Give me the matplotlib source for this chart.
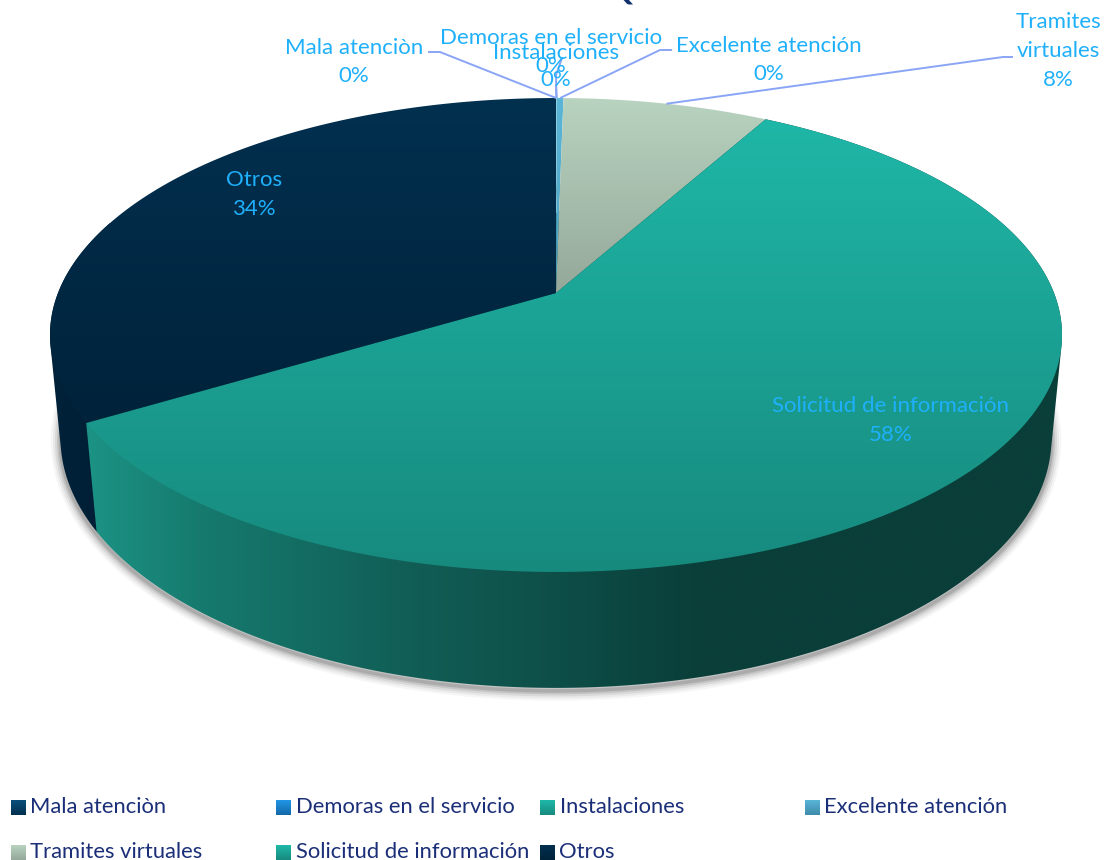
import numpy as np
import matplotlib
matplotlib.use("Agg")
import matplotlib.pyplot as plt
from matplotlib.colors import LinearSegmentedColormap
from matplotlib.patches import Polygon

# Chart data: share of each request type, in percent
categories = ["Mala atenciòn", "Demoras en el servicio", "Instalaciones",
              "Excelente atención", "Tramites virtuales",
              "Solicitud de información", "Otros"]
shares = [0.01, 0.01, 0.01, 0.25, 7.8, 58.3, 33.6]
shown_pct = ["0%", "0%", "0%", "0%", "8%", "58%", "34%"]

# Top-face gradient (upper colour, lower colour) for each slice
top_colors = [("#0a4f7a", "#02304f"), ("#2196e6", "#1468a8"), ("#1fb9a9", "#178a7e"),
              ("#5ab5d6", "#3f8bab"), ("#b8d3c0", "#95a899"), ("#1fb9a9", "#178a7e"),
              ("#02304f", "#00223a")]

FONT = "Lato"
LABEL_COLOR = "#1fb0fb"
LEADER_COLOR = "#8aa5f5"
LEGEND_COLOR = "#1b2f78"

W, H = 1107, 860
fig = plt.figure(figsize=(W / 100, H / 100), dpi=100)
ax = fig.add_axes([0, 0, 1, 1])
ax.set_xlim(0, W)
ax.set_ylim(H, 0)
ax.axis("off")

# Perspective projection of the pie disc; h = 0 is the top face, h = 1 the base
CX, R = 556.0, 498.0
PERSP, A, B = 0.1772, -177.6, 293.0
BASE_W, BASE_DROP = 0.0205, 109.5


def project(theta, h=0.0, r=1.0):
    u, v = r * np.sin(theta), r * np.cos(theta)
    w = 1 + PERSP * v + BASE_W * h
    return CX + R * u / w, (A * v + B + BASE_DROP * h) / w


def ramp(stops):
    return LinearSegmentedColormap.from_list("ramp", stops)


def convex_hull(points):
    pts = sorted(set(map(tuple, np.round(points, 3))))

    def half(seq):
        out = []
        for p in seq:
            while len(out) > 1 and ((out[-1][0] - out[-2][0]) * (p[1] - out[-2][1])
                                    - (out[-1][1] - out[-2][1]) * (p[0] - out[-2][0])) <= 0:
                out.pop()
            out.append(p)
        return out[:-1]

    return np.array(half(pts) + half(pts[::-1]))


def fill_clipped(poly, cmap, extent, horizontal=False, zorder=2):
    grad = np.linspace(0, 1, 512)
    grad = grad[None, :] if horizontal else grad[:, None]
    patch = Polygon(poly, closed=True, fc="none", ec="none", transform=ax.transData)
    ax.add_patch(patch)
    im = ax.imshow(grad, cmap=cmap, extent=extent, aspect="auto", zorder=zorder,
                   vmin=0, vmax=1, interpolation="bilinear")
    im.set_clip_path(patch)
    ax.set_xlim(0, W)
    ax.set_ylim(H, 0)


fractions = np.array(shares) / sum(shares)
edges = np.concatenate([[0], np.cumsum(fractions)]) * 2 * np.pi

# Slice order is clockwise from twelve o'clock
angle_bounds = {name: (edges[i], edges[i + 1]) for i, name in enumerate(categories)}
mid_angles = {name: 0.5 * sum(angle_bounds[name]) for name in categories}

# Soft shadow under the rim, dropped a little below the base
ring = np.linspace(0, 2 * np.pi, 720)
bx, by = project(ring, 1.0)
for lw, alpha in [(14, 0.04), (11, 0.06), (8, 0.09), (5, 0.13), (2.5, 0.16)]:
    ax.plot(bx, by + 3, color="#303030", lw=lw, alpha=alpha, zorder=1)

# Outer wall of the two large slices: the hull of each rim arc and its base arc,
# shaded left to right. The nearer slice is painted last so it covers the other.
wall_stops = {
    "Otros": [(40, "#00223a"), (110, "#001f35")],
    "Solicitud de información": [(85, "#1c9385"), (200, "#167a6e"), (400, "#115f57"),
                                 (550, "#0e4f49"), (700, "#0a3e39"), (1065, "#0b3e3a")],
}
for order, (name, stops) in enumerate(wall_stops.items()):
    t0, t1 = angle_bounds[name]
    th = np.linspace(t0, t1, 500)
    xt, yt = project(th, 0.0)
    xb, yb = project(th, 1.0)
    hull = convex_hull(np.column_stack([np.r_[xt, xb], np.r_[yt, yb]]))
    x0, x1 = stops[0][0], stops[-1][0]
    cmap = ramp([((x - x0) / (x1 - x0), c) for x, c in stops])
    fill_clipped(hull, cmap, (x0, x1, 700, 90), horizontal=True, zorder=2 + 0.1 * order)

# Top faces with a vertical gradient across the whole disc
for i, name in enumerate(categories):
    t0, t1 = angle_bounds[name]
    th = np.linspace(t0, t1, max(8, int((t1 - t0) * 200)))
    xt, yt = project(th, 0.0)
    ax_, ay_ = project(0.0, 0.0, 0.0)
    poly = np.column_stack([np.r_[ax_, xt], np.r_[ay_, yt]])
    if name == "Otros":
        ext = (0, W, 430, 98)
    elif name == "Tramites virtuales":
        ext = (0, W, 293, 98)
    else:
        ext = (0, W, 572, 98)
    fill_clipped(poly, ramp(top_colors[i]), ext, zorder=3)

# Data labels (position, text)
label_pos = {
    "Mala atenciòn": (354, 48, 76),
    "Demoras en el servicio": (551, 38, 66),
    "Instalaciones": (556, 53, 80),
    "Excelente atención": (769, 46, 74),
    "Otros": (254, 180, 209),
    "Solicitud de información": (891, 406, 435),
}
FS = 16.0
for i, name in enumerate(categories):
    if name in label_pos:
        x, y1, y2 = label_pos[name]
        ax.text(x, y1, name, color=LABEL_COLOR, fontsize=FS, family=FONT,
                ha="center", va="center", zorder=6)
        ax.text(x, y2, shown_pct[i], color=LABEL_COLOR, fontsize=FS, family=FONT,
                ha="center", va="center", zorder=6)
for txt, y in [("Tramites", 22), ("virtuales", 51), ("8%", 80)]:
    ax.text(1058, y, txt, color=LABEL_COLOR, fontsize=FS, family=FONT,
            ha="center", va="center", zorder=6)

# Leader lines from each small slice to its label
leaders = {
    "Mala atenciòn": [(428, 52), (440, 52)],
    "Demoras en el servicio": [(562, 58), (556, 75)],
    "Instalaciones": [(556, 85)],
    "Excelente atención": [(672, 50), (660, 50)],
    "Tramites virtuales": [(1013, 57), (1003, 57)],
}
for name, pts in leaders.items():
    end = project(mid_angles[name], 0.0)
    xs = [p[0] for p in pts] + [end[0]]
    ys = [p[1] for p in pts] + [end[1]]
    ax.plot(xs, ys, color=LEADER_COLOR, lw=1.4, zorder=5, solid_capstyle="butt")

# Chart title letter, mostly above the top edge of the canvas
ax.text(619, -1, "Q", color="#12306e", fontsize=24, family=FONT, fontweight="bold",
        ha="center", va="baseline", zorder=6, clip_on=True)

# Legend laid out on a fixed grid, two rows of four columns
col_x = [11, 276, 540, 805]
row_y = [800, 845]
legend_slots = [(0, 0), (1, 0), (2, 0), (3, 0), (0, 1), (1, 1), (2, 1)]
grad_col = np.linspace(0, 1, 64)[:, None]
for i, name in enumerate(categories):
    c, r = legend_slots[i]
    x, y = col_x[c], row_y[r]
    ax.imshow(grad_col, cmap=ramp(top_colors[i]), extent=(x, x + 15, y + 15, y),
              aspect="auto", zorder=4, vmin=0, vmax=1)
    ax.text(x + 19.5, y + 7, name, color=LEGEND_COLOR, fontsize=15.8, family=FONT,
            ha="left", va="center", zorder=6)
ax.set_xlim(0, W)
ax.set_ylim(H, 0)

fig.savefig("out.png", dpi=100, facecolor="white")
